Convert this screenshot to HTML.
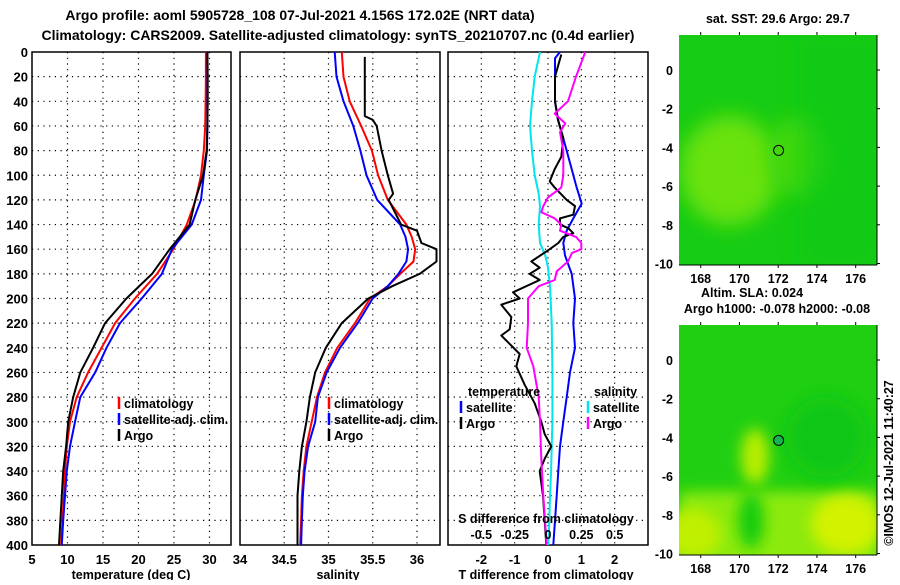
<!DOCTYPE html>
<html><head><meta charset="utf-8"><style>
body{margin:0;background:#fff;width:900px;height:580px;overflow:hidden;font-family:"Liberation Sans",sans-serif}
svg text{font-family:"Liberation Sans",sans-serif;font-weight:bold;fill:#000}
</style></head><body>
<svg id="chart" width="900" height="580" viewBox="0 0 900 580" xmlns="http://www.w3.org/2000/svg">
<defs>
<filter id="blur1" x="-50%" y="-50%" width="200%" height="200%"><feGaussianBlur stdDeviation="10"/></filter>
<filter id="blur2" x="-50%" y="-50%" width="200%" height="200%"><feGaussianBlur stdDeviation="7"/></filter>
<clipPath id="clipTop"><rect x="679" y="35" width="198" height="230"/></clipPath>
<clipPath id="clipBot"><rect x="679" y="325" width="198" height="230"/></clipPath>
</defs>
<text x="300" y="20" font-size="14" text-anchor="middle">Argo profile: aoml 5905728_108 07-Jul-2021 4.156S 172.02E (NRT data)</text>
<text x="338" y="40" font-size="14" text-anchor="middle">Climatology: CARS2009. Satellite-adjusted climatology: synTS_20210707.nc (0.4d earlier)</text>
<g id="g1"></g>
<g id="g2"></g>
<g id="g3"></g>
<g id="maps"></g>
</svg>
<script>
// ---- data ----
const tDepth=[0,20,40,60,80,100,120,140,160,180,200,220,240,260,280,300,320,340,360,380,400];
const tClim=[29.5,29.5,29.45,29.4,29.2,28.8,28.05,26.8,24.9,22.6,19.5,16.7,14.8,12.9,11.3,10.35,9.9,9.65,9.5,9.3,9.1];
const tSat=[29.7,29.7,29.7,29.7,29.65,29.2,28.8,27.5,24.7,23.3,20.45,17.4,15.5,13.9,11.8,11.05,10.35,9.9,9.65,9.4,9.2];
const tArgo=[29.7,29.75,29.75,29.7,29.6,29.1,28.0,27.2,24.4,21.9,18.3,15.3,13.6,11.8,10.8,10.1,9.8,9.4,9.2,9.0,8.8];
const sDepth=[0,20,40,60,80,100,120,140,150,160,170,180,190,200,220,240,260,280,300,320,340,360,380,400];
const sClim=[35.15,35.17,35.24,35.37,35.49,35.56,35.67,35.88,35.94,35.98,35.96,35.81,35.67,35.47,35.30,35.10,34.96,34.87,34.81,34.75,34.72,34.70,34.69,34.68];
const sSat=[35.07,35.09,35.17,35.28,35.36,35.43,35.55,35.81,35.87,35.90,35.88,35.79,35.67,35.50,35.33,35.13,34.98,34.88,34.85,34.77,34.73,34.71,34.70,34.69];
const saDepth=[4,52,55,60,80,100,115,120,140,145,155,160,170,180,190,200,220,240,260,280,300,320,340,360,380,400];
const sArgo=[35.41,35.41,35.50,35.545,35.60,35.67,35.73,35.68,35.82,36.0,36.05,36.22,36.22,36.03,35.72,35.45,35.15,34.97,34.85,34.79,34.75,34.70,34.67,34.65,34.65,34.65];
const dtSatDepth=[0,5,40,55,70,90,110,123,135,145,155,165,180,200,220,240,260,280,300,320,340,360,380,400];
const dtSat=[0.36,0.21,0.21,0.3,0.46,0.66,0.86,1.01,0.76,0.56,0.46,0.51,0.71,0.81,0.76,0.81,0.66,0.56,0.46,0.36,0.31,0.26,0.21,0.16];
const dtArgoDepth=[2,20,40,55,70,85,95,105,110,120,125,132,135,140,143,147,150,155,160,170,175,180,185,195,200,205,215,225,230,245,255,270,285,300,310,320,330,340,360,380,400];
const dtArgo=[0.4,0.21,0.21,0.3,0.46,0.4,0.2,0.05,0.2,0.56,0.81,0.76,0.36,0.36,0.61,0.76,0.46,0.31,0.05,-0.5,-0.25,-0.55,-0.25,-1.05,-0.85,-1.4,-1.1,-1.15,-1.4,-0.85,-0.95,-0.7,-0.4,-0.2,-0.1,0.1,-0.1,-0.25,-0.15,-0.1,-0.05];
const dsSatDepth=[0,20,40,60,80,100,115,125,140,155,165,175,190,220,260,300,320,340,360,380,400];
const dsSat=[-0.06,-0.1,-0.12,-0.135,-0.12,-0.1,-0.07,-0.06,-0.07,-0.06,-0.02,0,0.015,0.028,0.033,0.033,0.028,0.023,0.015,0.01,0.003];
const dsArgoDepth=[0,20,40,50,58,65,80,100,110,118,125,130,135,140,145,150,155,160,163,170,178,185,190,200,220,240,255,280,300,330,360,400];
const dsArgo=[0.28,0.21,0.15,0.05,0.13,0.09,0.115,0.115,0.1,0,-0.035,-0.05,0.05,0.1,0.09,0.21,0.25,0.25,0.18,0.15,0.065,0.05,-0.07,-0.15,-0.15,-0.16,-0.11,-0.07,-0.06,-0.05,-0.035,-0.01];
const depthTicks=[0,20,40,60,80,100,120,140,160,180,200,220,240,260,280,300,320,340,360,380,400];
const tTicks=[5,10,15,20,25,30];
const sTicks=[34,34.5,35,35.5,36];
const dtTicks=[-2,-1,0,1,2];
const dsTicks=[-0.5,-0.25,0,0.25,0.5];
const dsTickLabels=["-0.5","-0.25","0","0.25","0.5"];
const lonTicks=[168,170,172,174,176];
const latTicks=[0,-2,-4,-6,-8,-10];
const argoLon=172.02, argoLat=-4.156;

// ---- helpers ----
const NS="http://www.w3.org/2000/svg";
function mk(parent,tag,attrs,txt){const e=document.createElementNS(NS,tag);for(const k in attrs)e.setAttribute(k,attrs[k]);if(txt!==undefined)e.textContent=txt;parent.appendChild(e);return e;}
const Y0=52,Y1=545;
const yD=d=>Y0+d*(Y1-Y0)/400;
function lin(d0,d1,r0,r1){return v=>r0+(v-d0)*(r1-r0)/(d1-d0);}
const xT=lin(5,33.03,32,231);
const xS=lin(34,36.26,240,440);
const xDT=lin(-3,3,448,648);
const xDS=lin(-0.75,0.75,448,648);

function panel(g,x0,x1,xs,xticks,showY){
  for(const t of xticks){const x=xs(t);if(x<=x0+1||x>=x1-1)continue;
    const l=mk(g,'line',{x1:x,x2:x,y1:Y0,y2:Y1,stroke:'#000','stroke-width':1.2,'stroke-dasharray':'1.2,4.5'});
    }
  for(const d of depthTicks){if(d==0||d==400)continue;const y=yD(d);
    const l=mk(g,'line',{x1:x0,x2:x1,y1:y,y2:y,stroke:'#000','stroke-width':1.2,'stroke-dasharray':'1.2,4.5'});
    }
  const r=mk(g,'rect',{x:x0,y:Y0,width:x1-x0,height:Y1-Y0,fill:'none',stroke:'#000','stroke-width':1.5});
  
  if(showY){for(const d of depthTicks){const t=mk(g,'text',{x:x0-4,y:yD(d)+5,'font-size':13,'text-anchor':'end'},String(d));
    }}
}
function series(g,xs,depths,vals,color,name){
  const pts=depths.map((d,i)=>xs(vals[i]).toFixed(1)+','+yD(d).toFixed(1)).join(' ');
  const p=mk(g,'polyline',{points:pts,fill:'none',stroke:color,'stroke-width':2,'stroke-linejoin':'round'});
  
}
function xlabels(g,xs,ticks,labels,y,size){ticks.forEach((t,i)=>{const e=mk(g,'text',{x:xs(t),y:y,'font-size':size,'text-anchor':'middle'},labels?labels[i]:String(t));
  });}
function legend(g,x,y,color,label){const l=mk(g,'line',{x1:x,x2:x,y1:y-11,y2:y+1,stroke:color,'stroke-width':2.5});
  
  const t=mk(g,'text',{x:x+5,y:y,'font-size':12.5},label);
  }

// panel 1
const g1=document.getElementById('g1');
panel(g1,32,231,xT,tTicks,true);
series(g1,xT,tDepth,tClim,'#f00','climatology-temperature-line');
series(g1,xT,tDepth,tSat,'#00f','satellite-temperature-line');
series(g1,xT,tDepth,tArgo,'#000','argo-temperature-line');
xlabels(g1,xT,tTicks,null,564,13);
let tt=mk(g1,'text',{x:131,y:579,'font-size':12.5,'text-anchor':'middle'},'temperature (deg C)');

legend(g1,119,408,'#f00','climatology');legend(g1,119,424,'#00f','satellite-adj. clim.');legend(g1,119,440,'#000','Argo');

// panel 2
const g2=document.getElementById('g2');
panel(g2,240,440,xS,sTicks,false);
series(g2,xS,sDepth,sClim,'#f00','climatology-salinity-line');
series(g2,xS,sDepth,sSat,'#00f','satellite-salinity-line');
series(g2,xS,saDepth,sArgo,'#000','argo-salinity-line');
xlabels(g2,xS,sTicks,null,564,13);
tt=mk(g2,'text',{x:338,y:579,'font-size':12.5,'text-anchor':'middle'},'salinity');

legend(g2,329,408,'#f00','climatology');legend(g2,329,424,'#00f','satellite-adj. clim.');legend(g2,329,440,'#000','Argo');

// panel 3
const g3=document.getElementById('g3');
panel(g3,448,648,xDT,dtTicks,false);
series(g3,xDS,dsSatDepth,dsSat,'#00e5ee','satellite-salinity-diff-line');
series(g3,xDT,dtSatDepth,dtSat,'#00f','satellite-temperature-diff-line');
series(g3,xDT,dtArgoDepth,dtArgo,'#000','argo-temperature-diff-line');
series(g3,xDS,dsArgoDepth,dsArgo,'#f0f','argo-salinity-diff-line');
xlabels(g3,xDT,dtTicks,null,564,13);
xlabels(g3,xDS,dsTicks,dsTickLabels,539,12.5);
tt=mk(g3,'text',{x:546,y:579,'font-size':12.5,'text-anchor':'middle'},'T difference from climatology');

tt=mk(g3,'text',{x:546,y:523,'font-size':12.5,'text-anchor':'middle'},'S difference from climatology');

tt=mk(g3,'text',{x:468,y:396,'font-size':12.5},'temperature');

tt=mk(g3,'text',{x:594,y:396,'font-size':12.5},'salinity');

legend(g3,461,412,'#00f','satellite');legend(g3,461,428,'#000','Argo');
legend(g3,588,412,'#00e5ee','satellite');legend(g3,588,428,'#f0f','Argo');

// maps
const gm=document.getElementById('maps');
const mx=lin(168,176,700.7,855.7);
function map(top,zero,clip,isSla){
  const g=mk(gm,'g',{'clip-path':'url(#'+clip+')'});
  
  const my=lat=>zero-lat*19.35;
  mk(g,'rect',{x:679,y:top,width:198,height:230,fill:isSla?'#20cf12':'#16cc14'});
  if(!isSla){
    mk(g,'ellipse',{cx:mx(169.5),cy:my(-5.2),rx:50,ry:55,fill:'#6ae20c',filter:'url(#blur1)'});
    mk(g,'ellipse',{cx:mx(173),cy:my(-4.5),rx:30,ry:40,fill:'#44d810',filter:'url(#blur1)'});
    mk(g,'rect',{x:800,y:top,width:80,height:230,fill:'#0fc914',opacity:0.6,filter:'url(#blur1)'});
  } else {
    mk(g,'rect',{x:679,y:my(-6.8),width:200,height:100,fill:'#8cea08',filter:'url(#blur2)'});
    mk(g,'ellipse',{cx:mx(175.5),cy:my(-8.5),rx:35,ry:30,fill:'#d2f200',filter:'url(#blur2)'});
    mk(g,'ellipse',{cx:mx(167.5),cy:my(-9),rx:30,ry:25,fill:'#c0ef00',filter:'url(#blur2)'});
    mk(g,'ellipse',{cx:mx(170.8),cy:my(-5),rx:14,ry:28,fill:'#b8ee00',filter:'url(#blur2)'});
    mk(g,'ellipse',{cx:mx(170.6),cy:my(-8.3),rx:13,ry:28,fill:'#16cc10',filter:'url(#blur2)'});
    mk(g,'ellipse',{cx:mx(174.5),cy:my(-4),rx:40,ry:40,fill:'#10c616',filter:'url(#blur1)'});
  }
  const c=mk(gm,'circle',{cx:mx(argoLon),cy:my(argoLat),r:5,fill:isSla?'#14b450':'none',stroke:'#000','stroke-width':1});
  
  for(const lon of lonTicks){const x=mx(lon);
    mk(gm,'line',{x1:x,x2:x,y1:top-3,y2:top,stroke:'#000'});mk(gm,'line',{x1:x,x2:x,y1:top+230,y2:top+233,stroke:'#000'});
    const t=mk(gm,'text',{x:x,y:top+248,'font-size':12.5,'text-anchor':'middle'},String(lon));
    }
  for(const lat of latTicks){const y=my(lat);
    mk(gm,'line',{x1:877,x2:880,y1:y,y2:y,stroke:'#000'});
    const t=mk(gm,'text',{x:673,y:y+5,'font-size':12.5,'text-anchor':'end'},String(lat));
    }
  mk(gm,'line',{x1:877,x2:877,y1:top,y2:top+230,stroke:'#000'});
  mk(gm,'line',{x1:679,x2:877,y1:top+230,y2:top+230,stroke:'#000'});
}
map(35,70,'clipTop',false);
map(325,360,'clipBot',true);
tt=mk(gm,'text',{x:778,y:23,'font-size':12.5,'text-anchor':'middle'},'sat. SST: 29.6 Argo: 29.7');

tt=mk(gm,'text',{x:752,y:297,'font-size':12.5,'text-anchor':'middle'},'Altim. SLA: 0.024');

tt=mk(gm,'text',{x:777,y:313,'font-size':12.5,'text-anchor':'middle'},'Argo h1000: -0.078 h2000: -0.08');

tt=mk(gm,'text',{x:893,y:463,'font-size':12.5,'font-weight':'normal','text-anchor':'middle',transform:'rotate(-90 893 463)'},'©IMOS 12-Jul-2021 11:40:27');

</script>
</body></html>
